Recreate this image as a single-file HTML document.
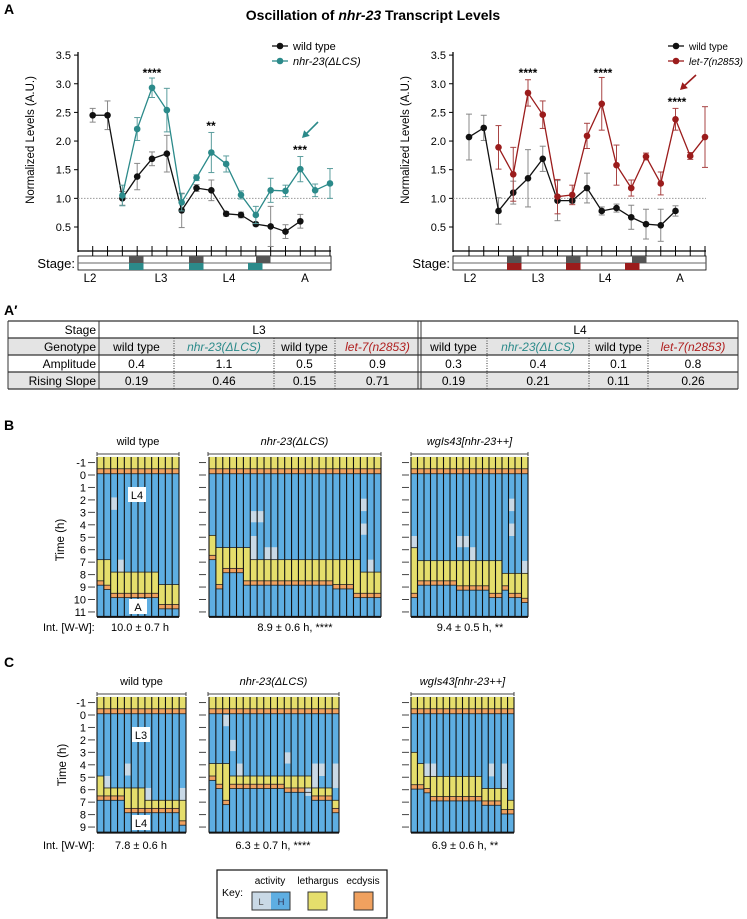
<!DOCTYPE html>
<html><head><meta charset="utf-8"><style>
html,body{margin:0;padding:0;background:#fff}
svg{display:block;font-family:"Liberation Sans",Arial,sans-serif}
</style></head><body>
<svg id="fig" width="747" height="919" viewBox="0 0 747 919" xmlns="http://www.w3.org/2000/svg">
<text x="4" y="14" font-size="14" font-weight="bold">A</text>
<text x="373" y="20" font-size="14" font-weight="bold" text-anchor="middle">Oscillation of <tspan font-style="italic">nhr-23</tspan> Transcript Levels</text>
<g id="left"></g>
<g id="right"></g>
<text x="4" y="315" font-size="14" font-weight="bold">A′</text>
<g id="table"></g>
<text x="4" y="430" font-size="14" font-weight="bold">B</text>
<text x="4" y="667" font-size="14" font-weight="bold">C</text>
<g id="heat"></g>
</svg>
<script>
// ---------- Line chart data ----------
const leftWild=[2.45,2.45,1.0,1.38,1.69,1.78,0.79,1.18,1.14,0.73,0.71,0.55,0.51,0.42,0.60];
const leftWildErr=[0.12,0.25,0.12,0.23,0.12,0.32,0.3,0.06,0.18,0.04,0.05,0.03,0.35,0.12,0.12];
const leftMut=[1.05,2.21,2.93,2.54,0.93,1.36,1.80,1.60,1.06,0.71,1.14,1.13,1.51,1.14,1.26];
const leftMutErr=[0.18,0.2,0.17,0.38,0.15,0.05,0.35,0.14,0.07,0.15,0.21,0.1,0.22,0.11,0.26];
const rightWild=[2.07,2.23,0.78,1.10,1.35,1.69,0.96,0.96,1.18,0.78,0.83,0.67,0.55,0.53,0.78];
const rightWildErr=[0.4,0.22,0.23,0.2,0.5,0.22,0.35,0.04,0.26,0.07,0.07,0.21,0.26,0.28,0.09];
const rightMut=[1.89,1.42,2.84,2.46,1.03,1.06,2.09,2.65,1.58,1.18,1.73,1.26,2.38,1.74,2.07];
const rightMutErr=[0.38,0.47,0.23,0.24,0.3,0.17,0.22,0.46,0.35,0.14,0.06,0.2,0.19,0.06,0.53];
const yTicks=[0.5,1.0,1.5,2.0,2.5,3.0,3.5];
const stageLabels=["L2","L3","L4","A"];
const NS="http://www.w3.org/2000/svg";
function el(parent,tag,attrs,text){const e=document.createElementNS(NS,tag);for(const k in attrs)e.setAttribute(k,attrs[k]);if(text!==undefined)e.textContent=text;parent.appendChild(e);return e;}

function lineChart(g,o){
  const yS=v=>227-(v-0.5)*57.3;
  const xS=i=>o.x0+o.dx*i;
  let a=el(g,'line',{x1:o.ax,y1:52,x2:o.ax,y2:252,stroke:'#000','stroke-width':1.3});
  
  
  yTicks.forEach(t=>{
    const tk=el(g,'line',{x1:o.ax-4,y1:yS(t),x2:o.ax,y2:yS(t),stroke:'#000'});
    
    
    const tl=el(g,'text',{x:o.ax-7,y:yS(t)+4,'font-size':11,'text-anchor':'end'},t.toFixed(1));
    
    
  });
  const yl=el(g,'text',{x:0,y:0,'font-size':11.5,'text-anchor':'middle',transform:`translate(${o.ax-44},140) rotate(-90)`},'Normalized Levels (A.U.)');
  
  
  el(g,'line',{x1:o.ax,y1:yS(1),x2:o.xEnd,y2:yS(1),stroke:'#999','stroke-dasharray':'1.5,1.5'});
  const xa=el(g,'line',{x1:o.ax,y1:251,x2:o.xEnd,y2:251,stroke:'#000','stroke-width':1.3});
  
  
  for(let i=0;i<17;i++){el(g,'line',{x1:xS(i),y1:246,x2:xS(i),y2:256,stroke:'#000'});}
  el(g,'rect',{x:o.ax,y:256,width:o.xEnd-o.ax,height:14,fill:'#fff',stroke:'#000','stroke-width':0.8});
  el(g,'line',{x1:o.ax,y1:263,x2:o.xEnd,y2:263,stroke:'#666'});
  o.dark.forEach(b=>{const r=el(g,'rect',{x:b,y:256,width:14.5,height:7,fill:'#555'});});
  o.col.forEach(b=>{const r=el(g,'rect',{x:b,y:263,width:14.5,height:7,fill:o.color});});
  const st=el(g,'text',{x:o.ax-3,y:268,'font-size':13,'text-anchor':'end'},'Stage:');
  
  
  stageLabels.forEach((s,i)=>{const t=el(g,'text',{x:o.stageX[i],y:282,'font-size':11.5,'text-anchor':'middle'},s);});
  function series(vals,errs,start,color,ecol,name){
    const pts=vals.map((v,i)=>[xS(i+start),yS(v)]);
    vals.forEach((v,i)=>{const x=xS(i+start);const e=errs[i];
      el(g,'line',{x1:x,y1:yS(v-e),x2:x,y2:yS(v+e),stroke:ecol,'stroke-width':1});
      el(g,'line',{x1:x-3,y1:yS(v-e),x2:x+3,y2:yS(v-e),stroke:ecol});
      el(g,'line',{x1:x-3,y1:yS(v+e),x2:x+3,y2:yS(v+e),stroke:ecol});});
    const p=el(g,'polyline',{points:pts.map(p=>p.join(',')).join(' '),fill:'none',stroke:color,'stroke-width':1.3});
    
    
    pts.forEach(pt=>{const c=el(g,'circle',{cx:pt[0],cy:pt[1],r:3.3,fill:color});});
  }
  series(o.wild,o.wildErr,0,'#111','#888','wild-type');
  series(o.mut,o.mutErr,2,o.color,o.ecolor,'mutant');
  [[46,'#111','wild type',false],[61,o.color,o.legend,true]].forEach(l=>{
    el(g,'line',{x1:o.lx-8,y1:l[0],x2:o.lx+8,y2:l[0],stroke:l[1],'stroke-width':1.3});
    el(g,'circle',{cx:o.lx,cy:l[0],r:3.3,fill:l[1]});
    const t=el(g,'text',{x:o.lx+13,y:l[0]+4,'font-size':o.lfs,'font-style':l[3]?'italic':'normal'},l[2]);
    
    
  });
  o.stars.forEach(s=>{el(g,'text',{x:s[0],y:s[1],'font-size':12,'text-anchor':'middle','font-weight':'bold'},s[2]);});
  const ar=o.arrow;
  el(g,'line',{x1:ar[0],y1:ar[1],x2:ar[2]+3,y2:ar[3]-3,stroke:o.color,'stroke-width':1.6});
  const dx=ar[2]-ar[0],dy=ar[3]-ar[1],L=Math.hypot(dx,dy),ux=dx/L,uy=dy/L;
  el(g,'polygon',{points:`${ar[2]},${ar[3]} ${ar[2]-ux*7-uy*4},${ar[3]-uy*7+ux*4} ${ar[2]-ux*7+uy*4},${ar[3]-uy*7-ux*4}`,fill:o.color});
}
lineChart(document.getElementById('left'),{ax:78,xEnd:331,x0:92.7,dx:14.83,wild:leftWild,wildErr:leftWildErr,mut:leftMut,mutErr:leftMutErr,
  color:'#2b8a8a',ecolor:'#5a9d9d',dark:[129,189,256],col:[129,189,248],stageX:[90,161,229,305],lx:280,lfs:11,legend:'nhr-23(ΔLCS)',
  stars:[[152,77,'****'],[211,130,'**'],[300,154,'***']],arrow:[318,122,302,138]});
lineChart(document.getElementById('right'),{ax:453,xEnd:706,x0:469,dx:14.75,wild:rightWild,wildErr:rightWildErr,mut:rightMut,mutErr:rightMutErr,
  color:'#9b1c1c',ecolor:'#a84444',dark:[507,566,632],col:[507,566,625],stageX:[470,538,605,680],lx:676,lfs:10,legend:'let-7(n2853)',
  stars:[[528,77,'****'],[603,77,'****'],[677,106,'****']],arrow:[696,75,680,90]});

// ---------- Table ----------
const tblCols=[8,99,174,274,335,420,487,589,648,738];
const tblGenos=['wild type','nhr-23(ΔLCS)','wild type','let-7(n2853)','wild type','nhr-23(ΔLCS)','wild type','let-7(n2853)'];
const tblAmp=['0.4','1.1','0.5','0.9','0.3','0.4','0.1','0.8'];
const tblSlope=['0.19','0.46','0.15','0.71','0.19','0.21','0.11','0.26'];
(function(){
  const g=document.getElementById('table');const rows=[321,338,355,372,389];
  el(g,'rect',{x:8,y:338,width:730,height:17,fill:'#e4e4e4'});
  el(g,'rect',{x:8,y:372,width:730,height:17,fill:'#e4e4e4'});
  rows.forEach(y=>el(g,'line',{x1:8,y1:y,x2:738,y2:y,stroke:'#333','stroke-width':1.3}));
  el(g,'line',{x1:8,y1:321,x2:8,y2:389,stroke:'#333'});
  el(g,'line',{x1:738,y1:321,x2:738,y2:389,stroke:'#333'});
  el(g,'line',{x1:99,y1:321,x2:99,y2:389,stroke:'#333'});
  el(g,'line',{x1:418,y1:321,x2:418,y2:389,stroke:'#333'});
  el(g,'line',{x1:421,y1:321,x2:421,y2:389,stroke:'#333'});
  [174,274,335,487,589,648].forEach(x=>el(g,'line',{x1:x,y1:338,x2:x,y2:389,stroke:'#333','stroke-dasharray':'1,1.5'}));
  const lab=['Stage','Genotype','Amplitude','Rising Slope'];
  lab.forEach((t,i)=>{const e=el(g,'text',{x:96,y:rows[i]+13,'font-size':12,'text-anchor':'end'},t);});
  el(g,'text',{x:259,y:334,'font-size':12,'text-anchor':'middle'},'L3');
  el(g,'text',{x:580,y:334,'font-size':12,'text-anchor':'middle'},'L4');
  for(let i=0;i<8;i++){
    const cx=(tblCols[i+1]+tblCols[i+2])/2;
    const c=(i%4===1)?'#2b8a8a':(i%4===3)?'#b02020':'#000';
    const t=el(g,'text',{x:cx,y:351,'font-size':12,'text-anchor':'middle',fill:c,'font-style':(i%2)?'italic':'normal'},tblGenos[i]);
    
    
    el(g,'text',{x:cx,y:368,'font-size':12,'text-anchor':'middle'},tblAmp[i]);
    el(g,'text',{x:cx,y:385,'font-size':12,'text-anchor':'middle'},tblSlope[i]);
  }
})();

// ---------- Heatmaps ----------
const bWildLeth=[6.8,6.8,7.8,7.8,7.8,7.8,7.8,7.8,7.8,8.8,8.8,8.8];
const bWildEcd=[8.5,8.85,9.5,9.5,9.5,9.5,9.5,9.5,9.5,10.4,10.4,10.4];
const bWildLight=[[2,1.8,2.8],[3,6.8,7.8]];
const bNhrLeth=[4.85,5.83,5.83,5.83,5.83,5.83,6.8,6.8,6.8,6.8,6.8,6.8,6.8,6.8,6.8,6.8,6.8,6.8,6.8,6.8,6.8,6.8,7.8,7.8,7.8];
const bNhrEcd=[6.45,8.8,7.5,7.5,7.5,8.5,8.5,8.5,8.5,8.5,8.5,8.5,8.5,8.5,8.5,8.5,8.5,8.5,8.8,8.8,8.8,9.5,9.5,9.5,9.5];
const bNhrLight=[[6,2.9,3.8],[7,2.9,3.8],[6,4.9,6.8],[8,5.8,6.8],[9,5.8,6.8],[22,1.9,2.9],[22,3.9,4.8],[23,6.8,7.8]];
const bOeLeth=[5.84,6.88,6.88,6.88,6.88,6.88,6.88,6.88,6.88,6.88,6.88,6.88,6.88,6.88,7.9,7.9,7.9,7.9];
const bOeEcd=[9.5,8.5,8.5,8.5,8.5,8.5,8.5,8.9,8.9,8.9,8.9,8.9,9.5,9.5,8.9,9.5,9.5,9.9];
const bOeLight=[[0,4.9,5.8],[7,4.9,5.8],[8,4.9,5.8],[9,5.8,6.88],[15,1.9,2.9],[15,3.9,4.9],[17,6.9,7.9]];
const cWildLeth=[4.9,5.86,5.86,5.86,5.86,5.86,5.86,6.85,6.85,6.85,6.85,6.85,6.85];
const cWildEcd=[6.5,6.5,6.5,6.5,7.5,7.5,7.5,7.5,7.5,7.5,7.5,7.5,8.5];
const cWildLight=[[1,4.9,5.86],[4,3.9,4.86],[7,5.86,6.85],[12,5.86,6.85]];
const cNhrLeth=[3.9,3.9,3.9,4.9,4.9,4.9,4.9,4.9,4.9,4.9,4.9,4.9,4.9,4.9,4.9,5.86,5.86,5.86,6.85];
const cNhrEcd=[4.9,5.56,6.85,5.56,5.56,5.56,5.56,5.56,5.56,5.56,5.56,5.86,5.86,5.86,5.86,6.5,6.5,6.5,7.5];
const cNhrLight=[[2,0,0.9],[3,2,2.9],[4,3.9,4.9],[11,3,3.9],[14,5.86,6.5],[15,3.9,5.86],[16,3.9,4.9],[18,3.9,5.86]];
const cOeLeth=[3.0,3.9,4.93,4.93,4.93,4.93,4.93,4.93,4.93,4.93,4.93,5.9,5.9,5.9,5.9,6.85];
const cOeEcd=[5.6,5.6,5.9,6.55,6.55,6.55,6.55,6.55,6.55,6.55,6.55,6.9,6.9,6.9,7.6,7.6];
const cOeLight=[[2,3.9,4.93],[3,3.9,4.93],[12,3.9,4.93],[14,3.9,5.9]];
const bHours=[-1,0,1,2,3,4,5,6,7,8,9,10,11];
const cHours=[-1,0,1,2,3,4,5,6,7,8,9];

const BLUE='#5eaee2',LIGHT='#c9d9e6',YEL='#e5de6c',ORA='#f0a15f';
function heatmap(g,x0,x1,y0,pxh,hTop,hBot,leth,ecd,light,name){
  const n=leth.length,w=(x1-x0)/n,Y=h=>y0+h*pxh;
  const grp=el(g,'g',{});
  
  
  for(let i=0;i<n;i++){
    const x=x0+i*w;
    el(grp,'rect',{x:x,y:Y(hTop),width:w,height:Y(hBot)-Y(hTop),fill:BLUE});
    el(grp,'rect',{x:x,y:Y(hTop),width:w,height:Y(-0.5)-Y(hTop),fill:YEL});
    el(grp,'rect',{x:x,y:Y(-0.5),width:w,height:Y(-0.1)-Y(-0.5),fill:ORA});
    el(grp,'rect',{x:x,y:Y(leth[i]),width:w,height:Y(ecd[i])-Y(leth[i]),fill:YEL});
    el(grp,'rect',{x:x,y:Y(ecd[i]),width:w,height:Y(ecd[i]+0.35)-Y(ecd[i]),fill:ORA});
  }
  light.forEach(l=>{const r=el(grp,'rect',{x:x0+l[0]*w,y:Y(l[1]),width:w,height:Y(l[2])-Y(l[1]),fill:LIGHT});});
  for(let i=0;i<n;i++){
    const x=x0+i*w;
    [-0.5,-0.1,leth[i],ecd[i],ecd[i]+0.35].forEach(h=>el(grp,'line',{x1:x,y1:Y(h),x2:x+w,y2:Y(h),stroke:'#222','stroke-width':0.8}));
  }
  for(let i=0;i<=n;i++){el(grp,'line',{x1:x0+i*w,y1:Y(hTop),x2:x0+i*w,y2:Y(hBot),stroke:'#111','stroke-width':1.1});}
  el(grp,'line',{x1:x0,y1:Y(hBot),x2:x1,y2:Y(hBot),stroke:'#111','stroke-width':2});
}
function ticks(g,x,y0,pxh,hours,labels){
  hours.forEach(h=>{el(g,'line',{x1:x-7,y1:y0+h*pxh,x2:x,y2:y0+h*pxh,stroke:'#444'});
    if(labels){const t=el(g,'text',{x:x-9,y:y0+h*pxh+4,'font-size':11,'text-anchor':'end'},String(h));}});
}
function header(g,x0,x1,y,label,italic){
  const t=el(g,'text',{x:(x0+x1)/2,y:y,'font-size':11,'text-anchor':'middle','font-style':italic?'italic':'normal'},label);
  
  
  el(g,'line',{x1:x0,y1:y+9,x2:x1,y2:y+9,stroke:'#444'});
  el(g,'line',{x1:x0,y1:y+7,x2:x0,y2:y+11,stroke:'#444'});
  el(g,'line',{x1:x1,y1:y+7,x2:x1,y2:y+11,stroke:'#444'});
}
function box(g,x,y,t){el(g,'rect',{x:x-9,y:y-8,width:18,height:15,fill:'#fff'});el(g,'text',{x:x,y:y+4,'font-size':11,'text-anchor':'middle'},t);}
(function(){
  const g=document.getElementById('heat');
  const by0=475,bp=12.45;
  header(g,97,179,445,'wild type',false);header(g,208,381,445,'nhr-23(ΔLCS)',true);header(g,411,528,445,'wgIs43[nhr-23++]',true);
  heatmap(g,97,179,by0,bp,-1.45,11.4,bWildLeth,bWildEcd,bWildLight,'heatmap-b-wild-type');
  heatmap(g,209,381,by0,bp,-1.45,11.4,bNhrLeth,bNhrEcd,bNhrLight,'heatmap-b-nhr23-dlcs');
  heatmap(g,411,528,by0,bp,-1.45,11.4,bOeLeth,bOeEcd,bOeLight,'heatmap-b-wgis43');
  ticks(g,95,by0,bp,bHours,true);ticks(g,206,by0,bp,bHours,false);ticks(g,409,by0,bp,bHours,false);
  el(g,'text',{x:0,y:0,'font-size':11.5,'text-anchor':'middle',transform:'translate(64,540) rotate(-90)'},'Time (h)');
  box(g,137,495,'L4');box(g,138,607,'A');
  el(g,'text',{x:43,y:631,'font-size':11},'Int. [W-W]:');
  el(g,'text',{x:140,y:631,'font-size':11,'text-anchor':'middle'},'10.0 ± 0.7 h');
  el(g,'text',{x:295,y:631,'font-size':11,'text-anchor':'middle'},'8.9 ± 0.6 h, ****');
  el(g,'text',{x:470,y:631,'font-size':11,'text-anchor':'middle'},'9.4 ± 0.5 h, **');
  const cy0=715,cp=12.45;
  header(g,97,186,685,'wild type',false);header(g,208,339,685,'nhr-23(ΔLCS)',true);header(g,411,514,685,'wgIs43[nhr-23++]',true);
  heatmap(g,97,186,cy0,cp,-1.45,9.45,cWildLeth,cWildEcd,cWildLight,'heatmap-c-wild-type');
  heatmap(g,209,339,cy0,cp,-1.45,9.45,cNhrLeth,cNhrEcd,cNhrLight,'heatmap-c-nhr23-dlcs');
  heatmap(g,411,514,cy0,cp,-1.45,9.45,cOeLeth,cOeEcd,cOeLight,'heatmap-c-wgis43');
  ticks(g,95,cy0,cp,cHours,true);ticks(g,206,cy0,cp,cHours,false);ticks(g,409,cy0,cp,cHours,false);
  el(g,'text',{x:0,y:0,'font-size':11.5,'text-anchor':'middle',transform:'translate(66,765) rotate(-90)'},'Time (h)');
  box(g,141,735,'L3');box(g,141,823,'L4');
  el(g,'text',{x:43,y:849,'font-size':11},'Int. [W-W]:');
  el(g,'text',{x:141,y:849,'font-size':11,'text-anchor':'middle'},'7.8 ± 0.6 h');
  el(g,'text',{x:273,y:849,'font-size':11,'text-anchor':'middle'},'6.3 ± 0.7 h, ****');
  el(g,'text',{x:465,y:849,'font-size':11,'text-anchor':'middle'},'6.9 ± 0.6 h, **');
  const k=el(g,'g',{});
  
  
  el(k,'rect',{x:217,y:870,width:170,height:48,fill:'#fff',stroke:'#111','stroke-width':1.2});
  el(k,'text',{x:222,y:896,'font-size':10.5},'Key:');
  el(k,'text',{x:270,y:884,'font-size':10,'text-anchor':'middle'},'activity');
  el(k,'text',{x:318,y:884,'font-size':10,'text-anchor':'middle'},'lethargus');
  el(k,'text',{x:363,y:884,'font-size':10,'text-anchor':'middle'},'ecdysis');
  el(k,'rect',{x:252,y:892,width:19,height:18,fill:LIGHT});
  el(k,'rect',{x:271,y:892,width:19,height:18,fill:BLUE});
  el(k,'rect',{x:252,y:892,width:38,height:18,fill:'none',stroke:'#333'});
  el(k,'text',{x:261,y:905,'font-size':9.5,'text-anchor':'middle',fill:'#555'},'L');
  el(k,'text',{x:281,y:905,'font-size':9.5,'text-anchor':'middle',fill:'#335'},'H');
  el(k,'rect',{x:308,y:892,width:19,height:18,fill:YEL,stroke:'#333'});
  el(k,'rect',{x:354,y:892,width:19,height:18,fill:ORA,stroke:'#333'});
})();
</script>
</body></html>
